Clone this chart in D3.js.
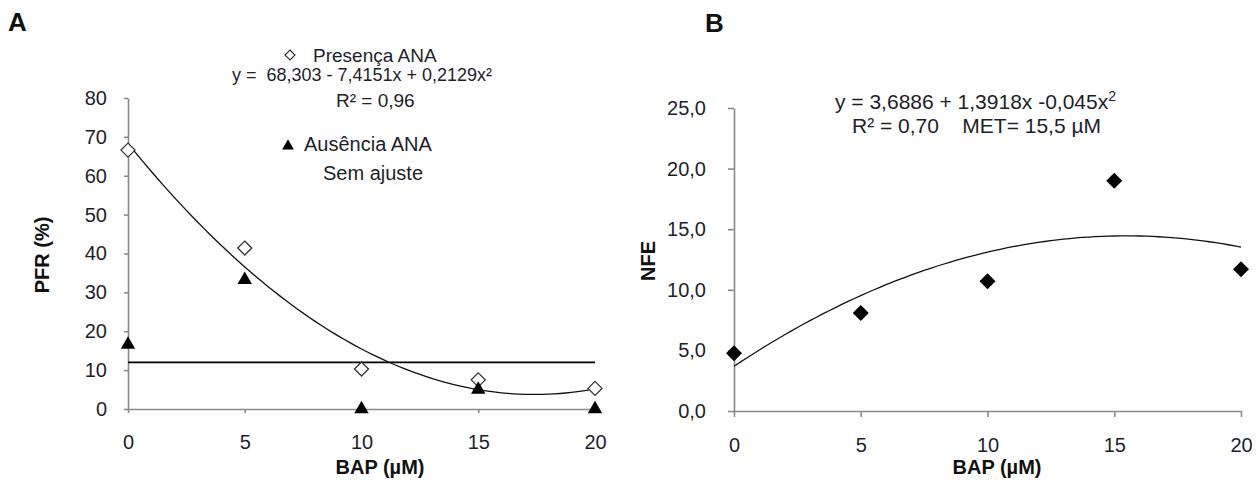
<!DOCTYPE html>
<head>
  <meta charset="utf-8">
  <script src="https://d3js.org/d3.v7.min.js"></script>
  <style>
    body { margin:0; background:#fff; }
    svg { display:block; font-family:"Liberation Sans", Arial, sans-serif; }
    .tick text { fill:#1e1e2a; }
    .ann { fill:#1e1e2a; white-space:pre; }
  </style>
</head>

<body>
  <svg width="1256" height="483"></svg>
  <script>
    // Panel A: PFR (%) vs BAP
    var bap = [0, 5, 10, 15, 20];
    var presencaANA = [66.6, 41.4, 10.3, 7.5, 5.3];
    var ausenciaANA = [16.6, 33.2, 0, 5.0, 0];
    var ausenciaMean = 12;
    var fitA = [68.303, -7.4151, 0.2129];
    var yTicksA = [0, 10, 20, 30, 40, 50, 60, 70, 80];

    // Panel B: NFE vs BAP
    var nfe = [4.76, 8.08, 10.7, 19.0, 11.7];
    var fitB = [3.6886, 1.3918, -0.045];
    var yTicksB = [0, 5, 10, 15, 20, 25];
    var xTicks = [0, 5, 10, 15, 20];

    var svg = d3.select('svg');
    var ptBR = d3.formatLocale({decimal: ',', thousands: '.', grouping: [3], currency: ['R$', '']});

    var xA = d3.scaleLinear().domain([0, 20]).range([128, 595]);
    var yA = d3.scaleLinear().domain([0, 80]).range([409, 98]);
    var xB = d3.scaleLinear().domain([0, 20]).range([734, 1241]);
    var yB = d3.scaleLinear().domain([0, 25]).range([411, 108]);

    function quad(c) { return function(x) { return c[0] + c[1] * x + c[2] * x * x; }; }
    var xs = d3.range(0, 20.01, 0.25);

    function styleAxis(g) {
      g.select('.domain').attr('stroke', '#8a8a8a').attr('stroke-width', 1.6);
      g.selectAll('.tick line').attr('stroke', '#8a8a8a').attr('stroke-width', 1.6);
      g.selectAll('.tick text').attr('font-size', 20).attr('font-family', '"Liberation Sans", Arial, sans-serif');
    }

    // ---------- Panel A ----------
    svg.append('g').attr('transform', 'translate(0,' + yA(0) + ')')
      .call(d3.axisBottom(xA).tickValues(xTicks).tickSize(4).tickSizeOuter(0).tickPadding(22))
      .call(styleAxis);
    svg.append('g').attr('transform', 'translate(' + xA(0) + ',0)')
      .call(d3.axisLeft(yA).tickValues(yTicksA).tickSize(4).tickSizeOuter(0).tickPadding(17))
      .call(styleAxis);

    // constant line for Ausência (sem ajuste)
    svg.append('line')
      .attr('x1', xA(0)).attr('x2', xA(20))
      .attr('y1', yA(ausenciaMean)).attr('y2', yA(ausenciaMean))
      .attr('stroke', '#000').attr('stroke-width', 1.6);

    var fA = quad(fitA);
    svg.append('path')
      .attr('d', d3.line().x(function(d) { return xA(d); }).y(function(d) { return yA(fA(d)); })(xs))
      .attr('fill', 'none').attr('stroke', '#111').attr('stroke-width', 1.3);

    function diamond(h) { return 'M0,' + (-h) + 'L' + h + ',0L0,' + h + 'L' + (-h) + ',0Z'; }

    svg.append('g').selectAll('path')
      .data(bap).enter().append('path')
      .attr('d', diamond(7))
      .attr('transform', function(d, i) { return 'translate(' + xA(d) + ',' + yA(presencaANA[i]) + ')'; })
      .attr('fill', '#fff').attr('stroke', '#333').attr('stroke-width', 1.3);

    var tri = d3.symbol().type(d3.symbolTriangle).size(90);
    svg.append('g').selectAll('path')
      .data(bap).enter().append('path')
      .attr('d', tri)
      .attr('transform', function(d, i) { return 'translate(' + xA(d) + ',' + yA(ausenciaANA[i]) + ')'; })
      .attr('fill', '#000');

    // annotations A
    svg.append('path').attr('d', diamond(5)).attr('transform', 'translate(290,55)')
      .attr('fill', '#fff').attr('stroke', '#333').attr('stroke-width', 1.2);
    svg.append('text').attr('class', 'ann').attr('x', 313).attr('y', 62).attr('font-size', 19).text('Presença ANA');
    svg.append('text').attr('class', 'ann').attr('x', 232).attr('y', 81).attr('font-size', 19)
      .attr('textLength', 260).attr('lengthAdjust', 'spacingAndGlyphs')
      .text('y =  68,303 - 7,4151x + 0,2129x²');
    svg.append('text').attr('class', 'ann').attr('x', 336).attr('y', 107).attr('font-size', 19).text('R² = 0,96');
    svg.append('path').attr('d', d3.symbol().type(d3.symbolTriangle).size(60)()).attr('transform', 'translate(288,146)').attr('fill', '#000');
    svg.append('text').attr('class', 'ann').attr('x', 304).attr('y', 151).attr('font-size', 20).text('Ausência ANA');
    svg.append('text').attr('class', 'ann').attr('x', 323).attr('y', 180).attr('font-size', 20).text('Sem ajuste');

    svg.append('text').attr('x', 8).attr('y', 31).attr('font-size', 26).attr('font-weight', 'bold').attr('fill', '#111').text('A');
    svg.append('text').attr('transform', 'translate(49,255) rotate(-90)').attr('text-anchor', 'middle')
      .attr('font-size', 20).attr('font-weight', 'bold').attr('fill', '#111').text('PFR (%)');
    svg.append('text').attr('x', 380).attr('y', 474).attr('text-anchor', 'middle')
      .attr('font-size', 20).attr('font-weight', 'bold').attr('fill', '#111').text('BAP (µM)');

    // ---------- Panel B ----------
    svg.append('g').attr('transform', 'translate(0,' + yB(0) + ')')
      .call(d3.axisBottom(xB).tickValues(xTicks).tickSize(6).tickSizeOuter(0).tickPadding(21))
      .call(styleAxis);
    svg.append('g').attr('transform', 'translate(' + xB(0) + ',0)')
      .call(d3.axisLeft(yB).tickValues(yTicksB).tickSize(6).tickSizeOuter(0).tickPadding(22).tickFormat(ptBR.format('.1f')))
      .call(styleAxis);

    var fB = quad(fitB);
    svg.append('path')
      .attr('d', d3.line().x(function(d) { return xB(d); }).y(function(d) { return yB(fB(d)); })(xs))
      .attr('fill', 'none').attr('stroke', '#111').attr('stroke-width', 1.3);

    svg.append('g').selectAll('path')
      .data(bap).enter().append('path')
      .attr('d', diamond(8))
      .attr('transform', function(d, i) { return 'translate(' + xB(d) + ',' + yB(nfe[i]) + ')'; })
      .attr('fill', '#000');

    var eqB = svg.append('text').attr('class', 'ann').attr('x', 835).attr('y', 109).attr('font-size', 21);
    eqB.append('tspan').text('y = 3,6886 + 1,3918x -0,045x');
    eqB.append('tspan').attr('font-size', 14).attr('dy', -8).text('2');
    svg.append('text').attr('class', 'ann').attr('x', 852).attr('y', 133).attr('font-size', 21)
      .text('R² = 0,70    MET= 15,5 µM');

    svg.append('text').attr('x', 705).attr('y', 32).attr('font-size', 26).attr('font-weight', 'bold').attr('fill', '#111').text('B');
    svg.append('text').attr('transform', 'translate(655,261) rotate(-90)').attr('text-anchor', 'middle')
      .attr('font-size', 20).attr('font-weight', 'bold').attr('fill', '#111').text('NFE');
    svg.append('text').attr('x', 997).attr('y', 474).attr('text-anchor', 'middle')
      .attr('font-size', 20).attr('font-weight', 'bold').attr('fill', '#111').text('BAP (µM)');
  </script>
</body>
